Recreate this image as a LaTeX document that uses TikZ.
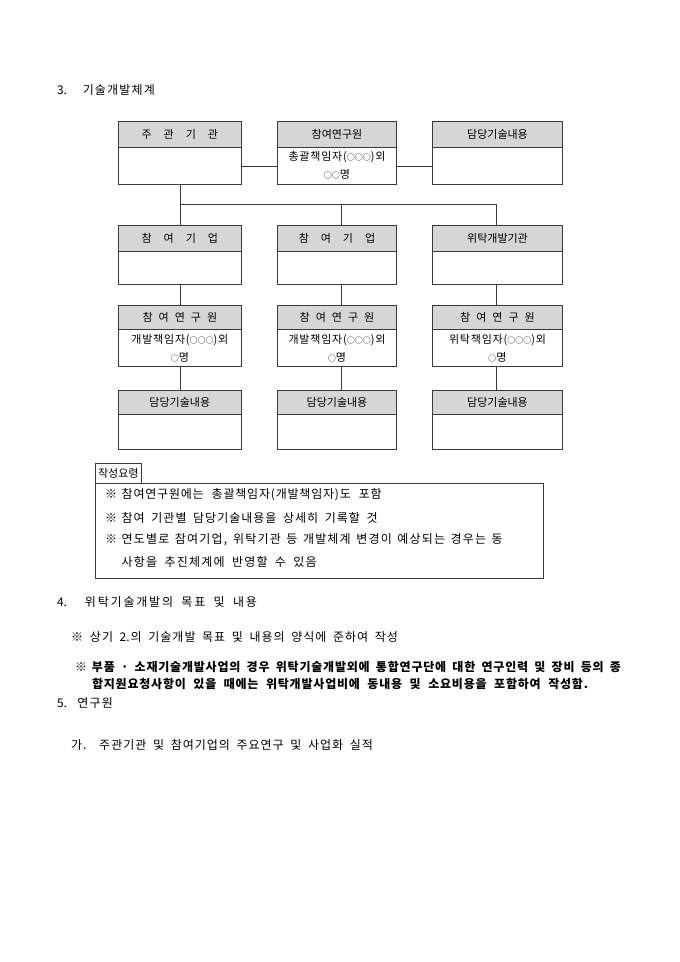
\documentclass[tikz,border=0pt]{standalone}
\usepackage{fontspec}
\setmainfont{Noto Sans CJK KR}
\newfontfamily\kor{Noto Sans CJK KR}
\definecolor{hdrgray}{HTML}{D6D6D6}
\definecolor{linegray}{HTML}{3A3A3A}
% letter spacing between Hangul syllables via interchar tokens
\newdimen\lsk \lsk=0pt
\XeTeXinterchartokenstate=1
\newcount\hgc \hgc="AC00
\loop \XeTeXcharclass\hgc=4 \advance\hgc by 1 \ifnum\hgc<"D7A4 \repeat
\XeTeXinterchartoks 4 4 = {\kern\lsk}
\XeTeXinterchartoks 4 0 = {\kern\lsk}
\XeTeXinterchartoks 0 4 = {\kern\lsk}
\newcommand\fs[2]{\fontsize{#1}{13}\selectfont\setlength\lsk{#2pt}}
\newcommand\fsb{\fontsize{11}{18}\selectfont\setlength\lsk{0.8pt}}
\newcommand\fitline[2]{\hbox to #1pt{\spaceskip=4pt plus 1fill minus 2pt #2\hfil}}
\newcommand\oc{{\fontsize{8}{8}\selectfont ○}}
\tikzset{
  txt/.style={font=\kor\fontsize{10.5}{13}\selectfont, inner sep=0pt, outer sep=0pt},
  hdr/.style={txt, draw=linegray, line width=0.9pt, fill=hdrgray, anchor=north west, font=\kor\fontsize{11}{13}\selectfont},
  bdy/.style={txt, draw=linegray, line width=0.9pt, fill=white, anchor=north west, align=center, font=\kor\fsb},
  conn/.style={draw=linegray, line width=0.9pt},
  note/.style={txt, anchor=west},
}
\newcommand\widesp[1]{{\spaceskip=12pt #1}}
\newcommand\midsp[1]{{\spaceskip=6pt #1}}
\begin{document}
\spaceskip=4pt plus 1pt minus 1pt
\begin{tikzpicture}[x=1pt,y=-1pt]
\useasboundingbox (0,0) rectangle (680,962);
\fill[white] (0,0) rectangle (680,962);

\node[note, font=\kor\fs{12}{1.2}] (t3) at (57,90) {\fitline{98}{3. 기술개발체계}};

% row 1
\node[hdr, minimum width=123.7pt, minimum height=26.3pt] (A1h) at (118,121) {\widesp{주 관 기 관}};
\node[bdy, minimum width=123.7pt, minimum height=36.7pt] (A1b) at (118,147.3) {};
\node[hdr, minimum width=119.4pt, minimum height=26.3pt] (B1h) at (277.3,121) {참여연구원};
\node[bdy, minimum width=119.4pt, minimum height=36.7pt] (B1b) at (277.3,147.3) {총괄책임자(\oc\oc\oc)외\\\oc\oc{}명};
\node[hdr, minimum width=129.6pt, minimum height=26.3pt] (C1h) at (432.7,121) {담당기술내용};
\node[bdy, minimum width=129.6pt, minimum height=36.7pt] (C1b) at (432.7,147.3) {};

% row 2
\node[hdr, minimum width=123.7pt, minimum height=26pt] (A2h) at (118,225) {\widesp{참 여 기 업}};
\node[bdy, minimum width=123.7pt, minimum height=33pt] (A2b) at (118,251) {};
\node[hdr, minimum width=119.4pt, minimum height=26pt] (B2h) at (277.3,225) {\widesp{참 여 기 업}};
\node[bdy, minimum width=119.4pt, minimum height=33pt] (B2b) at (277.3,251) {};
\node[hdr, minimum width=129.6pt, minimum height=26pt] (C2h) at (432.7,225) {위탁개발기관};
\node[bdy, minimum width=129.6pt, minimum height=33pt] (C2b) at (432.7,251) {};

% row 3
\node[hdr, minimum width=123.7pt, minimum height=24.3pt] (A3h) at (118,305) {\midsp{참 여 연 구 원}};
\node[bdy, minimum width=123.7pt, minimum height=37.4pt] (A3b) at (118,329.3) {개발책임자(\oc\oc\oc)외\\\oc{}명};
\node[hdr, minimum width=119.4pt, minimum height=24.3pt] (B3h) at (277.3,305) {\midsp{참 여 연 구 원}};
\node[bdy, minimum width=119.4pt, minimum height=37.4pt] (B3b) at (277.3,329.3) {개발책임자(\oc\oc\oc)외\\\oc{}명};
\node[hdr, minimum width=129.6pt, minimum height=24.3pt] (C3h) at (432.7,305) {\midsp{참 여 연 구 원}};
\node[bdy, minimum width=129.6pt, minimum height=37.4pt] (C3b) at (432.7,329.3) {위탁책임자(\oc\oc\oc)외\\\oc{}명};

% row 4
\node[hdr, minimum width=123.7pt, minimum height=24pt] (A4h) at (118,390) {담당기술내용};
\node[bdy, minimum width=123.7pt, minimum height=35pt] (A4b) at (118,414) {};
\node[hdr, minimum width=119.4pt, minimum height=24pt] (B4h) at (277.3,390) {담당기술내용};
\node[bdy, minimum width=119.4pt, minimum height=35pt] (B4b) at (277.3,414) {};
\node[hdr, minimum width=129.6pt, minimum height=24pt] (C4h) at (432.7,390) {담당기술내용};
\node[bdy, minimum width=129.6pt, minimum height=35pt] (C4b) at (432.7,414) {};

% connectors
\coordinate (jA) at (180.7,204.3);
\coordinate (jB) at (341.7,204.3);
\coordinate (jC) at (496.7,204.3);
\coordinate (hy) at (0,166);
\draw[conn] (A1b.east |- hy) -- (B1b.west |- hy);
\draw[conn] (B1b.east |- hy) -- (C1b.west |- hy);
\draw[conn] (A1b.south -| jA) -- (A2h.north -| jA);
\draw[conn] (jA) -- (jC);
\draw[conn] (jB) -- (B2h.north -| jB);
\draw[conn] (jC) -- (C2h.north -| jC);
\draw[conn] (A2b.south -| jA) -- (A3h.north -| jA);
\draw[conn] (B2b.south -| jB) -- (B3h.north -| jB);
\draw[conn] (C2b.south -| jC) -- (C3h.north -| jC);
\draw[conn] (A3b.south -| jA) -- (A4h.north -| jA);
\draw[conn] (B3b.south -| jB) -- (B4h.north -| jB);
\draw[conn] (C3b.south -| jC) -- (C4h.north -| jC);

% guidance box
\node[txt, draw=linegray, line width=0.8pt, anchor=north west, minimum width=46.7pt, minimum height=20pt, font=\kor\fontsize{11}{13}\selectfont] (tab) at (95,463.3) {작성요령};
\node[txt, draw=linegray, line width=0.8pt, anchor=north west, minimum width=448.3pt, minimum height=95pt] (guide) at (95,483.3) {};
\node[note, font=\kor\fs{12}{0.8}] (g1) at (105,495) {\makebox[16.7pt][l]{※}\fitline{260}{참여연구원에는 총괄책임자(개발책임자)도 포함}};
\node[note, font=\kor\fs{12}{1}] (g2) at (105,518) {\makebox[16.7pt][l]{※}\fitline{256}{참여 기관별 담당기술내용을 상세히 기록할 것}};
\node[note, font=\kor\fs{12}{1.2}] (g3) at (105,540) {\makebox[16.7pt][l]{※}\fitline{381}{연도별로 참여기업, 위탁기관 등 개발체계 변경이 예상되는 경우는 동}};
\node[note, font=\kor\fs{12}{1.2}] (g4) at (121.7,561.7) {\fitline{195}{사항을 추진체계에 반영할 수 있음}};

% sections
\node[note, font=\kor\fs{12}{1.8}] (t4) at (57,601.7) {\fitline{200}{4. 위탁기술개발의 목표 및 내용}};
\node[note, font=\kor\fs{12}{1}] (n41) at (71,636.7) {\makebox[19pt][l]{※}\fitline{308}{상기 2.의 기술개발 목표 및 내용의 양식에 준하여 작성}};
\node[note, font=\kor\bfseries\fs{12}{0.8}] (n42) at (75,666.7) {\makebox[17pt][l]{※}\fitline{529}{부품 · 소재기술개발사업의 경우 위탁기술개발외에 통합연구단에 대한 연구인력 및 장비 등의 종}};
\node[note, font=\kor\bfseries\fs{12}{0.8}] (n43) at (92,684) {\fitline{496}{합지원요청사항이 있을 때에는 위탁개발사업비에 동내용 및 소요비용을 포함하여 작성함.}};
\node[note, font=\kor\fs{12}{1.2}] (t5) at (57,703) {\fitline{56}{5. 연구원}};
\node[note, font=\kor\fs{12}{1}] (n51) at (71,745) {\fitline{302}{가. 주관기관 및 참여기업의 주요연구 및 사업화 실적}};
\end{tikzpicture}
\end{document}
